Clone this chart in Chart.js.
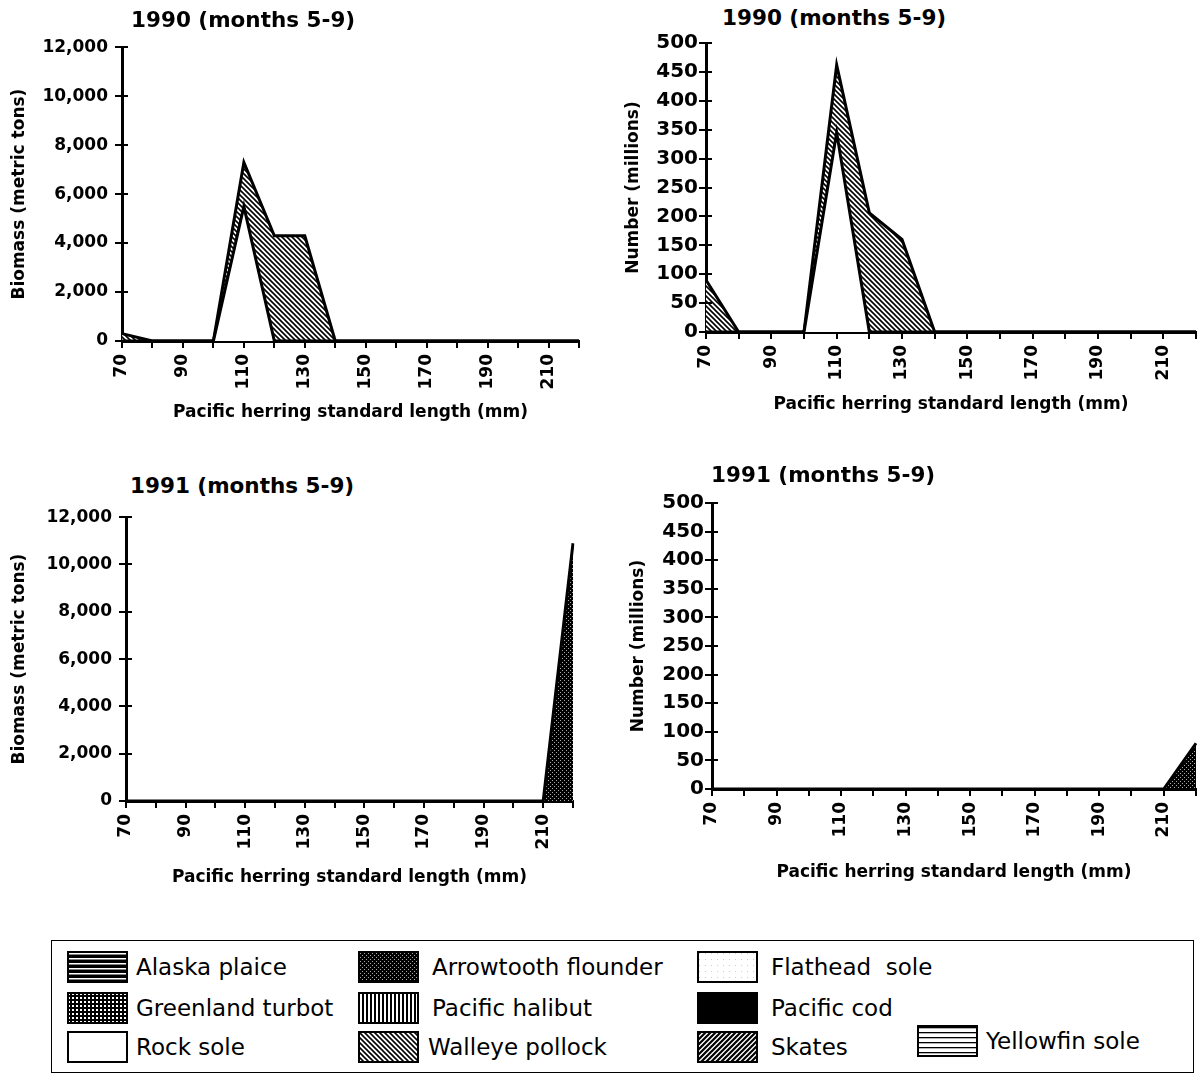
<!DOCTYPE html>
<html>
<head>
<meta charset="utf-8">
<script src="https://cdn.jsdelivr.net/npm/chart.js@4.4.1/dist/chart.umd.min.js"></script>
<style>
  body { margin: 0; background: #fff; }
  #page { position: relative; width: 1199px; height: 1078px; overflow: hidden; font-family: 'DejaVu Sans', sans-serif; color: #000; }
  canvas.panel { position: absolute; }
  .ttl { position: absolute; font-weight: bold; font-size: 21.5px; line-height: 24px; white-space: nowrap; }
  #legendBox { position: absolute; left: 51px; top: 940px; width: 1143px; height: 133px; border: 1.5px solid #000; box-sizing: border-box; }
  .sw { position: absolute; }
  .lab { position: absolute; font-size: 23px; line-height: 28px; white-space: pre; }
</style>
</head>
<body>
<div id="page">
  <canvas class="panel" id="bio90" width="600" height="393" style="left:0;top:30px"></canvas>
  <canvas class="panel" id="num90" width="599" height="385" style="left:600px;top:30px"></canvas>
  <canvas class="panel" id="bio91" width="600" height="388" style="left:0;top:500px"></canvas>
  <canvas class="panel" id="num91" width="599" height="398" style="left:600px;top:485px"></canvas>

  <div class="ttl" style="left:131px;top:8px">1990 (months 5-9)</div>
  <div class="ttl" style="left:722px;top:6px">1990 (months 5-9)</div>
  <div class="ttl" style="left:130px;top:474px">1991 (months 5-9)</div>
  <div class="ttl" style="left:711px;top:463px">1991 (months 5-9)</div>

  <div id="legendBox"></div>
</div>

<script>
// length classes (mm)
const lengths = ['70', '80', '90', '100', '110', '120', '130', '140', '150', '160', '170', '180', '190', '200', '210', '220'];

const species = ['Alaska plaice', 'Arrowtooth flounder', 'Flathead  sole',
                 'Greenland turbot', 'Pacific halibut', 'Pacific cod',
                 'Rock sole', 'Walleye pollock', 'Skates', 'Yellowfin sole'];

// 1990 biomass (metric tons)
const bio90Rock    = [0, 0, 0, 0, 5500, 0, 0, 0, 0, 0, 0, 0, 0, 0, 0, 0];
const bio90Pollock = [300, 0, 0, 0, 1800, 4300, 4300, 0, 0, 0, 0, 0, 0, 0, 0, 0];
// 1990 number (millions)
const num90Rock    = [0, 0, 0, 0, 345, 0, 0, 0, 0, 0, 0, 0, 0, 0, 0, 0];
const num90Pollock = [90, 0, 0, 0, 117, 206, 160, 0, 0, 0, 0, 0, 0, 0, 0, 0];
// 1991
const bio91Arrow = [0, 0, 0, 0, 0, 0, 0, 0, 0, 0, 0, 0, 0, 0, 0, 10900];
const num91Arrow = [0, 0, 0, 0, 0, 0, 0, 0, 0, 0, 0, 0, 0, 0, 0, 80];

// fill patterns, like the old b/w hatch fills
function makePattern(kind) {
  const c = document.createElement('canvas');
  const g = c.getContext('2d');
  let w = 6, h = 6;
  if (kind === 'hstripe' || kind === 'hthin') { w = 6; h = 5; }
  if (kind === 'stipple' || kind === 'grid' ) { w = 4; h = 4; }
  if (kind === 'vstripe') { w = 4; h = 4; }
  if (kind === 'bdiag' || kind === 'fdiag') { w = 5; h = 5; }
  c.width = w; c.height = h;
  g.fillStyle = '#fff';
  g.fillRect(0, 0, w, h);
  g.fillStyle = '#000';
  g.strokeStyle = '#000';
  switch (kind) {
    case 'hstripe':
      g.fillRect(0, 0, w, h);
      g.fillStyle = '#fff';
      g.fillRect(0, 2, w, 1.5);
      break;
    case 'stipple':
      g.fillRect(0, 0, w, h);
      g.fillStyle = '#aaa';
      g.fillRect(0, 0, 1, 1);
      g.fillRect(2, 2, 1, 1);
      break;
    case 'flat':
      g.fillStyle = '#ccc';
      g.fillRect(2, 2, 1, 1);
      break;
    case 'grid':
      g.fillRect(0, 0, w, h);
      g.fillStyle = '#fff';
      g.fillRect(1, 1, 2, 2);
      break;
    case 'vstripe':
      g.fillRect(0, 0, 2, h);
      break;
    case 'solid':
      g.fillRect(0, 0, w, h);
      break;
    case 'bdiag':
    case 'fdiag':
      g.lineWidth = kind === 'bdiag' ? 1.6 : 2.2;
      g.beginPath();
      if (kind === 'bdiag') {
        g.moveTo(0, 0); g.lineTo(w, h);
        g.moveTo(-1, h - 1); g.lineTo(1, h + 1);
        g.moveTo(w - 1, -1); g.lineTo(w + 1, 1);
      } else {
        g.moveTo(0, h); g.lineTo(w, 0);
        g.moveTo(-1, 1); g.lineTo(1, -1);
        g.moveTo(w - 1, h + 1); g.lineTo(w + 1, h - 1);
      }
      g.stroke();
      break;
    case 'hthin':
      g.fillRect(0, 2, w, 1.3);
      break;
  }
  return g.createPattern(c, 'repeat');
}

const patternKind = {
  'Alaska plaice': 'hstripe', 'Arrowtooth flounder': 'stipple', 'Flathead  sole': 'flat',
  'Greenland turbot': 'grid', 'Pacific halibut': 'vstripe', 'Pacific cod': 'solid',
  'Rock sole': 'white', 'Walleye pollock': 'bdiag', 'Skates': 'fdiag', 'Yellowfin sole': 'hthin'
};
const fills = {};
species.forEach(s => { fills[s] = makePattern(patternKind[s]); });

// small tick marks on the inner side of the y axis
const innerTicks = {
  id: 'innerTicks',
  afterDraw(chart) {
    const y = chart.scales.y, x0 = chart.chartArea.left, ctx = chart.ctx;
    ctx.save();
    ctx.strokeStyle = '#000';
    ctx.lineWidth = 2;
    y.ticks.forEach(t => {
      const py = Math.round(y.getPixelForValue(t.value));
      ctx.beginPath(); ctx.moveTo(x0, py); ctx.lineTo(x0 + 6, py); ctx.stroke();
    });
    ctx.restore();
  }
};

Chart.defaults.font.family = "'DejaVu Sans', sans-serif";
Chart.defaults.color = '#000';

function buildPanel(id, series, cfg) {
  new Chart(document.getElementById(id), {
    type: 'line',
    data: {
      labels: lengths,
      datasets: series.map((s, i) => ({
        label: s.name,
        data: s.data,
        backgroundColor: fills[s.name],
        borderColor: '#000',
        borderWidth: 3,
        pointRadius: 0,
        tension: 0,
        fill: i === 0 ? 'origin' : '-1'
      }))
    },
    options: {
      responsive: false,
      animation: false,
      layout: { padding: cfg.pad },
      plugins: { legend: { display: false }, tooltip: { enabled: false } },
      scales: {
        x: {
          grid: { drawOnChartArea: false, color: '#000', lineWidth: 2, tickLength: 7 },
          border: { color: '#000', width: 3 },
          ticks: {
            autoSkip: false, maxRotation: 90, minRotation: 90, padding: 6,
            font: { size: 17, weight: 'bold' },
            callback(v, i) { return i % 2 === 0 ? this.getLabelForValue(v) : ''; }
          },
          title: {
            display: true, text: 'Pacific herring standard length (mm)',
            font: { size: 17, weight: 'bold' }, padding: { top: 0, bottom: 0 }
          },
          afterFit(s) { s.height = cfg.xH; s.paddingLeft = 0; s.paddingRight = 0; }
        },
        y: {
          stacked: true, min: 0, max: cfg.max,
          grid: { drawOnChartArea: false, color: '#000', lineWidth: 2, tickLength: 7 },
          border: { color: '#000', width: 3 },
          ticks: {
            stepSize: cfg.step, padding: cfg.tickPad,
            font: { size: cfg.tickSize, weight: 'bold' },
            callback: v => v.toLocaleString('en-US')
          },
          title: {
            display: true, text: cfg.yTitle,
            font: { size: 17, weight: 'bold' }, padding: { top: cfg.yTitlePad, bottom: 0 }
          },
          afterFit(s) { s.width = cfg.yW; }
        }
      }
    },
    plugins: [innerTicks]
  });
}

const bioAxis = { max: 12000, step: 2000, yTitle: 'Biomass (metric tons)', tickSize: 17, tickPad: 7 };
const numAxis = { max: 500, step: 50, yTitle: 'Number (millions)', tickSize: 20, tickPad: 1 };

buildPanel('bio90', [{ name: 'Rock sole', data: bio90Rock }, { name: 'Walleye pollock', data: bio90Pollock }],
  Object.assign({}, bioAxis, { pad: { left: 0, top: 14, right: 21, bottom: 0 }, yW: 122, xH: 82, yTitlePad: 9 }));
buildPanel('num90', [{ name: 'Rock sole', data: num90Rock }, { name: 'Walleye pollock', data: num90Pollock }],
  Object.assign({}, numAxis, { pad: { left: 0, top: 13, right: 3, bottom: 0 }, yW: 106, xH: 83, yTitlePad: 23 }));
buildPanel('bio91', [{ name: 'Arrowtooth flounder', data: bio91Arrow }],
  Object.assign({}, bioAxis, { pad: { left: 0, top: 17, right: 27, bottom: 0 }, yW: 126, xH: 87, yTitlePad: 9 }));
buildPanel('num91', [{ name: 'Arrowtooth flounder', data: num91Arrow }],
  Object.assign({}, numAxis, { pad: { left: 0, top: 18, right: 3, bottom: 0 }, yW: 112, xH: 94, yTitlePad: 28 }));

// legend box (swatch left, text left, row top)
const legendPos = [
  [67, 136, 951], [358, 432, 951], [697, 771, 951],
  [67, 136, 992], [358, 432, 992], [697, 771, 992],
  [67, 136, 1031], [358, 428, 1031], [697, 771, 1031], [917, 986, 1025]
];
const page = document.getElementById('page');
species.forEach((name, i) => {
  const [sx, tx, ty] = legendPos[i];
  const sw = document.createElement('canvas');
  sw.className = 'sw';
  sw.width = 61; sw.height = 32;
  sw.style.left = sx + 'px'; sw.style.top = ty + 'px';
  const g = sw.getContext('2d');
  g.fillStyle = fills[name];
  g.fillRect(0, 0, 61, 32);
  g.strokeStyle = '#000'; g.lineWidth = 2;
  g.strokeRect(1, 1, 59, 30);
  page.appendChild(sw);
  const lab = document.createElement('div');
  lab.className = 'lab';
  lab.textContent = name;
  lab.style.left = tx + 'px'; lab.style.top = (ty + 2) + 'px';
  page.appendChild(lab);
});
</script>
</body>
</html>
